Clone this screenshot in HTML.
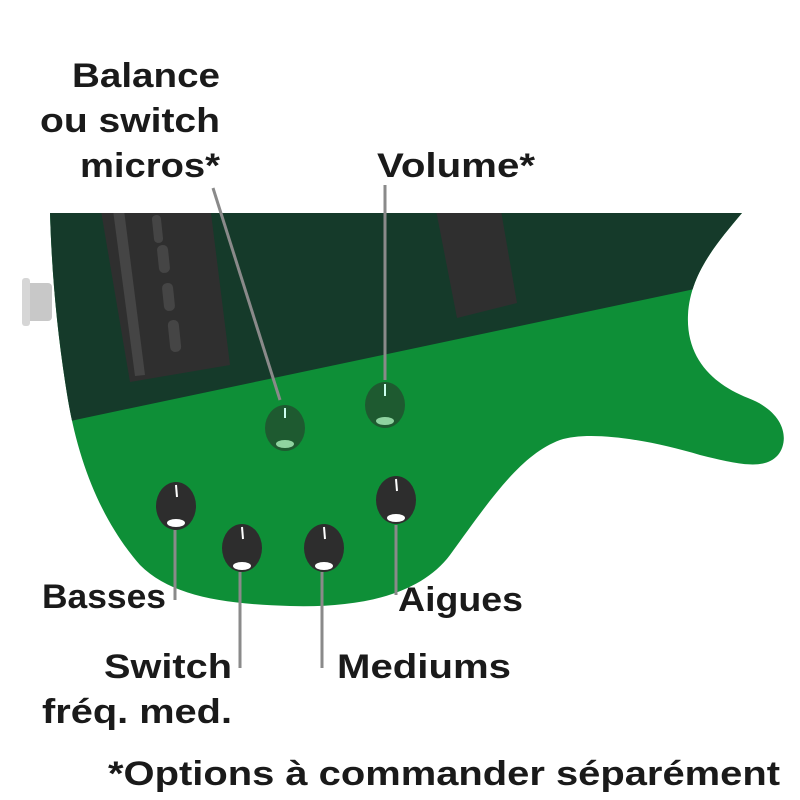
<!DOCTYPE html>
<html><head><meta charset="utf-8"><style>html,body{margin:0;padding:0;background:#fff}svg{display:block}</style></head>
<body>
<svg width="800" height="800" viewBox="0 0 800 800" xmlns="http://www.w3.org/2000/svg">
<defs>
<clipPath id="body"><path id="bp" d="M50,213 L742,213 C715,245 690,275 688,315 C686,360 715,385 748,398 C785,412 790,440 778,455 C765,470 740,465 700,455 C650,440 590,430 560,440 C520,455 490,500 450,555 C420,595 360,608 290,606 C220,604 170,595 140,565 C105,525 80,470 68,400 C58,340 52,280 50,213 Z"/></clipPath>
</defs>
<rect x="22" y="283" width="30" height="38" rx="4" fill="#c8c8c8"/>
<rect x="22" y="278" width="8" height="48" rx="3" fill="#d6d6d6"/>
<g clip-path="url(#body)">
<rect x="0" y="200" width="800" height="420" fill="#0e8f37"/>
<path d="M0,200 L800,200 L800,265 L690,290 L75,420 L0,440 Z" fill="#153a2a"/>
<path d="M100,205 L210,205 L230,365 L130,382 Z" fill="#2f2f2f"/>
<path d="M113,210 L124,210 L145,375 L135,376 Z" fill="#454545"/>
<rect x="153" y="215" width="9" height="28" rx="4" fill="#454545" transform="rotate(-6 157 229)"/>
<rect x="158" y="245" width="11" height="28" rx="5" fill="#454545" transform="rotate(-6 163 259)"/>
<rect x="163" y="283" width="11" height="28" rx="5" fill="#454545" transform="rotate(-6 168 297)"/>
<rect x="169" y="320" width="11" height="32" rx="5" fill="#454545" transform="rotate(-6 174 336)"/>
<path d="M435,205 L500,205 L517,303 L457,318 Z" fill="#2f2f2f"/>
</g>
<g stroke="#8a8a8a" stroke-width="3" fill="none">
<line x1="213" y1="188" x2="280" y2="400"/>
<line x1="385" y1="185" x2="385" y2="380"/>
<line x1="175" y1="530" x2="175" y2="600"/>
<line x1="240" y1="572" x2="240" y2="668"/>
<line x1="322" y1="572" x2="322" y2="668"/>
<line x1="396" y1="525" x2="396" y2="595"/>
</g>
<g>
<ellipse cx="285" cy="428" rx="20" ry="23" fill="#1e5a30"/>
<ellipse cx="385" cy="405" rx="20" ry="23" fill="#1e5a30"/>
<ellipse cx="285" cy="444" rx="9" ry="4" fill="#8fd3a0"/>
<ellipse cx="385" cy="421" rx="9" ry="4" fill="#8fd3a0"/>
<line x1="285" y1="408" x2="285" y2="418" stroke="#cfe" stroke-width="2"/>
<line x1="385" y1="384" x2="385" y2="396" stroke="#cfe" stroke-width="2"/>
<ellipse cx="176" cy="506" rx="20" ry="24" fill="#2d2d2d"/>
<ellipse cx="242" cy="548" rx="20" ry="24" fill="#2d2d2d"/>
<ellipse cx="324" cy="548" rx="20" ry="24" fill="#2d2d2d"/>
<ellipse cx="396" cy="500" rx="20" ry="24" fill="#2d2d2d"/>
<g fill="#fff"><ellipse cx="176" cy="523" rx="9" ry="4"/><ellipse cx="242" cy="566" rx="9" ry="4"/><ellipse cx="324" cy="566" rx="9" ry="4"/><ellipse cx="396" cy="518" rx="9" ry="4"/></g>
<g stroke="#fff" stroke-width="2"><line x1="176" y1="485" x2="177" y2="497"/><line x1="242" y1="527" x2="243" y2="539"/><line x1="324" y1="527" x2="325" y2="539"/><line x1="396" y1="479" x2="397" y2="491"/></g>
</g>
<g font-family="'Liberation Sans', sans-serif" font-size="34" font-weight="bold" fill="#1a1a1a">
<text x="72" y="87" textLength="148" lengthAdjust="spacingAndGlyphs">Balance</text>
<text x="40" y="132" textLength="180" lengthAdjust="spacingAndGlyphs">ou switch</text>
<text x="80" y="177" textLength="140" lengthAdjust="spacingAndGlyphs">micros*</text>
<text x="377" y="177" textLength="158" lengthAdjust="spacingAndGlyphs">Volume*</text>
<text x="42" y="608" textLength="124" lengthAdjust="spacingAndGlyphs">Basses</text>
<text x="398" y="611" textLength="125" lengthAdjust="spacingAndGlyphs">Aigues</text>
<text x="104" y="678" textLength="128" lengthAdjust="spacingAndGlyphs">Switch</text>
<text x="42" y="723" textLength="190" lengthAdjust="spacingAndGlyphs">fréq. med.</text>
<text x="337" y="678" textLength="174" lengthAdjust="spacingAndGlyphs">Mediums</text>
<text x="108" y="785" textLength="672" lengthAdjust="spacingAndGlyphs">*Options à commander séparément</text>
</g>
</svg>
</body></html>
